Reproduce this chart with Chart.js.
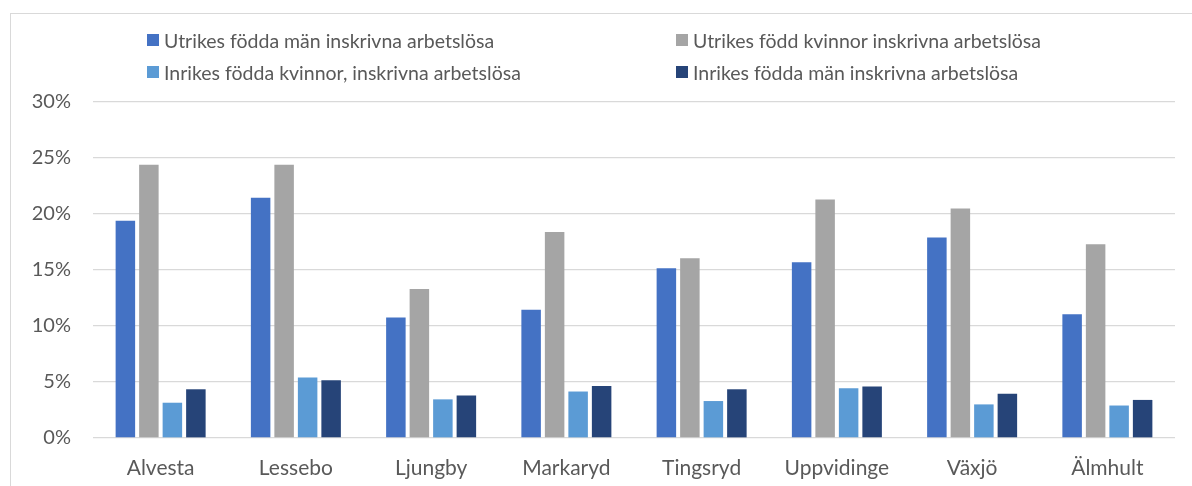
<!DOCTYPE html>
<html>
<head>
<meta charset="utf-8">
<script src="https://cdn.jsdelivr.net/npm/chart.js@4/dist/chart.umd.min.js"></script>
<style>
  html, body { margin: 0; padding: 0; background: #fff; }
  #wrap { position: relative; width: 1192px; height: 486px; overflow: hidden; font-family: Lato, "Open Sans", sans-serif; }
  #frame { position: absolute; left: 10px; top: 13px; width: 1200px; height: 500px; border: 1px solid #d9d9d9; box-sizing: border-box; }
  #c { position: absolute; left: 0; top: 0; }
  .lg { position: absolute; display: flex; align-items: center; font-size: 19.5px; color: #595959; white-space: nowrap; }
  .lg span.b { display: inline-block; width: 12px; height: 12px; margin-right: 5px; }
</style>
</head>
<body>
<div id="wrap">
  <div id="frame"></div>
  <canvas id="c" width="1192" height="486"></canvas>
  <div id="legend"></div>
</div>
<script>
const categories = ["Alvesta", "Lessebo", "Ljungby", "Markaryd", "Tingsryd", "Uppvidinge", "Växjö", "Älmhult"];
const seriesNames = [
  "Utrikes födda män inskrivna arbetslösa",
  "Utrikes född kvinnor inskrivna arbetslösa",
  "Inrikes födda kvinnor, inskrivna arbetslösa",
  "Inrikes födda män inskrivna arbetslösa"
];
const utrikesMan = [19.4, 21.45, 10.75, 11.45, 15.15, 15.7, 17.9, 11.05];
const utrikesKvinnor = [24.4, 24.4, 13.3, 18.4, 16.05, 21.3, 20.5, 17.3];
const inrikesKvinnor = [3.15, 5.4, 3.45, 4.15, 3.3, 4.45, 3.0, 2.9];
const inrikesMan = [4.35, 5.15, 3.8, 4.65, 4.35, 4.6, 3.95, 3.4];
const yTicks = [0, 5, 10, 15, 20, 25, 30];
const colors = ["#4472C4", "#A5A5A5", "#5B9BD5", "#264478"];

const seriesValues = [utrikesMan, utrikesKvinnor, inrikesKvinnor, inrikesMan];

// HTML legend in a 2x2 grid (same order as Excel legend)
const legendPos = [[147, 40], [676, 40], [147, 72], [676, 72]];
const legendEl = document.getElementById('legend');
seriesNames.forEach((n, i) => {
  const d = document.createElement('div');
  d.className = 'lg';
  d.style.left = legendPos[i][0] + 'px';
  d.style.top = (legendPos[i][1] - 12) + 'px';
  d.style.height = '24px';
  d.innerHTML = '<span class="b" style="background:' + colors[i] + '"></span>' + n;
  legendEl.appendChild(d);
});

Chart.defaults.font.family = 'Lato, "Open Sans", sans-serif';
Chart.defaults.color = '#595959';

new Chart(document.getElementById('c'), {
  type: 'bar',
  data: {
    labels: categories,
    datasets: seriesNames.map((n, i) => ({
      label: n,
      data: seriesValues[i],
      backgroundColor: colors[i],
      borderWidth: 0,
      categoryPercentage: 0.695,
      barPercentage: 0.83
    }))
  },
  options: {
    responsive: false,
    animation: false,
    layout: { padding: { left: 10, right: 17, top: 102, bottom: 0 } },
    plugins: { legend: { display: false }, tooltip: { enabled: false } },
    scales: {
      x: {
        grid: { display: false, drawTicks: false },
        border: { display: false },
        ticks: { font: { size: 21 }, color: '#595959', padding: 18 },
        afterFit: s => { s.height = 48; }
      },
      y: {
        min: 0, max: 30,
        afterBuildTicks: s => { s.ticks = yTicks.map(v => ({ value: v })); },
        grid: { color: '#d9d9d9', lineWidth: 1.3, drawTicks: false },
        border: { display: false },
        ticks: { font: { size: 20 }, color: '#595959', padding: 22, callback: v => v + '%' },
        afterFit: s => { s.width = 83; }
      }
    }
  }
});
</script>
</body>
</html>
